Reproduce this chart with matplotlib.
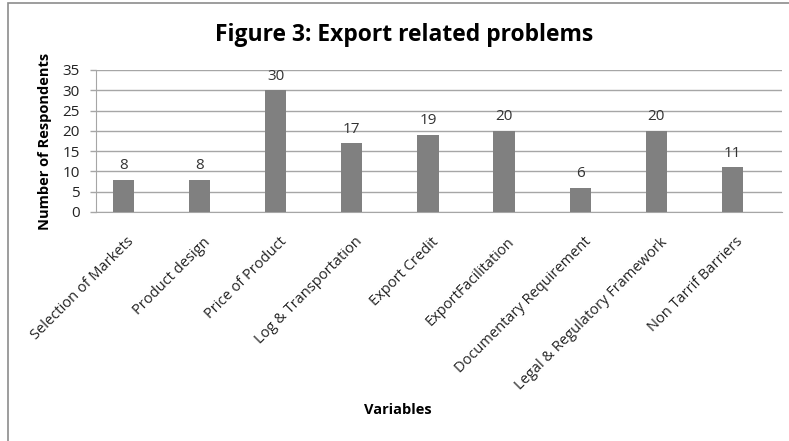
import matplotlib.pyplot as plt
import matplotlib.patches as mpatches
import numpy as np

categories = ['Selection of Markets', 'Product design', 'Price of Product',
              'Log & Transportation', 'Export Credit', 'ExportFacilitation',
              'Documentary Requirement', 'Legal & Regulatory Framework',
              'Non Tarrif Barriers']
respondents = [8, 8, 30, 17, 19, 20, 6, 20, 11]
yticks = [0, 5, 10, 15, 20, 25, 30, 35]

plt.rcParams['font.family'] = ['Open Sans', 'DejaVu Sans']

fig = plt.figure(figsize=(7.89, 4.41), dpi=100)
ax = fig.add_axes([96 / 789, 1 - 212 / 441, (782 - 96) / 789, (212 - 70) / 441])

# outer chart frame
fig.patches.append(mpatches.Rectangle((8 / 789, -0.01), 0.995, 1 - 3 / 441 + 0.01,
                                      transform=fig.transFigure, fill=False,
                                      edgecolor='#8c8c8c', linewidth=1.2))

x = np.arange(len(categories))
ax.bar(x, respondents, width=0.28, color='#808080', zorder=3)
for xi, v in zip(x, respondents):
    ax.text(xi, v + 1.6, str(v), ha='center', va='bottom', fontsize=11, color='#333333')

ax.set_xlim(-0.36, 8.65)
ax.set_ylim(0, 35)
ax.set_yticks(yticks)
ax.yaxis.grid(True, color='#a6a6a6', linewidth=1, zorder=0)
ax.set_xticks(x)
ax.set_xticklabels([])
# slanted category names, ending just right of each bar
for xi, cat in zip(x, categories):
    ax.annotate(cat, (xi, 0), xytext=(6, -20), textcoords='offset points',
                rotation=45, ha='right', va='center', rotation_mode='anchor',
                fontsize=10.5, color='#222222', annotation_clip=False)
ax.tick_params(axis='x', length=0)
ax.tick_params(axis='y', length=4.5, width=1, color='#a6a6a6', pad=7,
               labelsize=11, labelcolor='#222222')
for s in ['top', 'right']:
    ax.spines[s].set_visible(False)
for s in ['left', 'bottom']:
    ax.spines[s].set_color('#a6a6a6')

ax.set_ylabel('Number of Respondents', fontsize=10.5, fontweight='bold', labelpad=8)
fig.text(398 / 789, 1 - 410 / 441, 'Variables', ha='center', va='center',
         fontsize=10.5, fontweight='bold')
fig.text(404 / 789, 1 - 35 / 441, 'Figure 3: Export related problems', ha='center',
         va='center', fontsize=16.5, fontweight='bold')

fig.savefig('out.png', dpi=100)
